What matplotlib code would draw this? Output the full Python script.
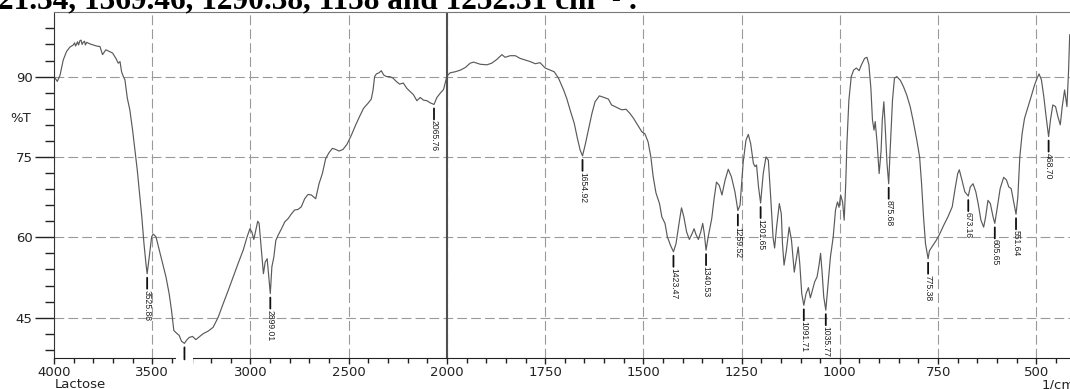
import numpy as np
import matplotlib.pyplot as plt
from matplotlib.patches import Rectangle
import matplotlib.transforms as mtransforms

plt.rcParams['font.family'] = ['DejaVu Sans']
plt.rcParams['lines.scale_dashes'] = False

# FTIR spectrum of lactose: wavenumber (1/cm) and transmittance (%T)
wavenumber = [
    4000, 3983, 3969, 3953, 3936, 3919, 3902, 3895, 3890, 3880, 3875, 3868, 3862, 3857,
    3851, 3845, 3840, 3834, 3817, 3800, 3783, 3766, 3753, 3736, 3719, 3702, 3685, 3673,
    3664, 3656, 3647, 3639, 3627, 3614, 3600, 3588, 3576, 3563, 3553, 3542, 3532, 3525.88,
    3515, 3503, 3495, 3481, 3464, 3447, 3430, 3414, 3402, 3390, 3376, 3363, 3351, 3336,
    3325, 3312, 3295, 3278, 3261, 3241, 3215, 3190, 3164, 3139, 3113, 3088, 3063, 3037,
    3017, 3003, 2993, 2983, 2973, 2963, 2956, 2944, 2934, 2925, 2915, 2908, 2899.01, 2891,
    2881, 2871, 2859, 2842, 2825, 2808, 2791, 2775, 2758, 2741, 2724, 2707, 2690, 2668,
    2651, 2634, 2617, 2600, 2583, 2566, 2549, 2529, 2508, 2486, 2464, 2444, 2424, 2402,
    2385, 2376, 2368, 2359, 2346, 2334, 2322, 2308, 2291, 2274, 2258, 2241, 2222, 2204,
    2187, 2170, 2153, 2136, 2119, 2102, 2085, 2065.76, 2051, 2034, 2017, 2000,
    1992, 1979, 1966, 1953, 1941, 1932, 1915, 1898, 1886, 1873, 1860, 1852, 1839, 1826,
    1814, 1801, 1788, 1775, 1763, 1750, 1737, 1727, 1716, 1703, 1695, 1685, 1676, 1668,
    1661, 1654.92, 1648, 1640, 1631, 1623, 1612, 1600, 1589, 1581, 1572, 1564, 1555, 1544,
    1534, 1525, 1515, 1504, 1496, 1488, 1481, 1475, 1468, 1459, 1453, 1445, 1439, 1431,
    1423.47, 1417, 1408, 1403, 1397, 1390, 1383, 1376, 1371, 1366, 1360, 1354, 1349, 1345,
    1340.53, 1335, 1326, 1320, 1314, 1307, 1300, 1292, 1284, 1276, 1267, 1259.52, 1254, 1246,
    1239, 1233, 1227, 1220, 1216, 1212, 1207, 1201.65, 1195, 1188, 1182, 1176, 1170, 1166,
    1161, 1154, 1149, 1146, 1142, 1136, 1129, 1123, 1116, 1110, 1106, 1102, 1097, 1091.71,
    1086, 1080, 1075, 1070, 1064, 1058, 1053, 1049, 1045, 1041, 1035.77, 1030, 1024, 1017,
    1011, 1006, 1002, 998, 993, 989, 985, 982, 977, 971, 965, 958, 951, 945,
    937, 931, 926, 921, 917, 913, 910, 905, 900, 895, 892, 888, 885, 880,
    875.68, 872, 866, 861, 855, 846, 838, 830, 821, 813, 804, 797, 792, 787,
    782, 775.38, 772, 763, 755, 746, 736, 725, 714, 706, 700, 696, 689, 682,
    673.16, 668, 661, 654, 648, 641, 634, 629, 623, 617, 610, 605.65, 599, 592,
    583, 576, 570, 564, 556, 551.64, 547, 542, 536, 530, 522, 513, 505, 498,
    493, 487, 481, 475, 468.70, 464, 458, 451, 445, 439, 434, 428, 422, 418, 415,
]
transmittance = [
    90.0, 89.1, 90.3, 93.1, 94.7, 95.5, 95.9, 96.3, 95.7, 96.5, 95.9, 96.7, 96.8, 96.0,
    96.4, 96.6, 95.9, 96.4, 96.1, 95.9, 95.7, 95.6, 94.1, 95.0, 94.7, 94.4, 93.4, 92.5,
    92.8, 90.9, 90.0, 89.4, 86.0, 83.8, 80.0, 76.3, 72.5, 67.5, 63.8, 58.8, 55.1, 53.2,
    56.4, 60.1, 60.6, 60.1, 57.6, 55.1, 52.6, 49.5, 46.4, 42.6, 42.1, 41.7, 40.6, 40.2,
    40.8, 41.3, 41.5, 40.9, 41.4, 42.0, 42.5, 43.2, 45.1, 47.6, 50.1, 52.6, 55.1, 57.6,
    60.1, 61.6, 61.0, 59.6, 61.3, 63.0, 62.6, 57.6, 53.2, 55.4, 56.0, 53.2, 49.5, 54.5,
    56.3, 59.4, 60.4, 61.6, 62.9, 63.5, 64.4, 65.1, 65.2, 65.7, 67.2, 68.0, 67.9, 67.2,
    70.0, 71.9, 74.7, 75.8, 76.6, 76.4, 76.1, 76.4, 77.4, 79.1, 81.0, 82.6, 84.1, 85.0,
    85.8, 87.5, 90.0, 90.5, 90.7, 91.1, 90.3, 90.0, 90.0, 89.7, 89.1, 88.6, 88.8, 87.8,
    87.2, 86.6, 85.5, 86.1, 85.6, 85.5, 85.1, 84.8, 86.1, 86.9, 87.6, 90.1,
    90.7, 90.9, 91.2, 91.7, 92.5, 92.7, 92.3, 92.2, 92.5, 93.2, 94.1, 93.6, 93.9, 93.9,
    93.4, 93.1, 92.8, 92.4, 92.6, 91.6, 91.2, 90.9, 89.7, 87.5, 85.9, 83.4, 81.3, 78.5,
    76.3, 75.2, 77.3, 80.0, 83.1, 85.3, 86.4, 86.1, 85.8, 84.7, 84.4, 84.1, 83.8, 83.9,
    83.1, 82.2, 81.0, 79.7, 79.3, 77.8, 75.0, 71.3, 68.3, 66.3, 63.8, 62.6, 60.1, 58.5,
    57.3, 58.8, 63.2, 65.5, 63.8, 61.0, 59.6, 60.7, 61.6, 60.5, 59.6, 61.0, 62.6, 60.7,
    57.6, 60.1, 63.5, 67.2, 70.3, 69.7, 67.9, 70.7, 72.7, 71.3, 68.5, 65.0, 66.0, 74.0,
    78.1, 79.2, 77.5, 73.8, 73.2, 73.5, 69.4, 66.4, 71.9, 75.0, 74.4, 67.5, 60.0, 58.0,
    61.9, 66.3, 64.4, 58.8, 54.8, 57.6, 61.9, 59.4, 53.5, 56.3, 58.2, 55.1, 49.5, 47.3,
    49.5, 50.6, 48.7, 50.1, 51.7, 52.6, 54.8, 57.0, 53.3, 48.9, 46.4, 51.3, 56.3, 60.0,
    65.1, 66.6, 65.6, 67.9, 66.6, 63.2, 70.0, 77.5, 85.6, 90.0, 91.2, 91.6, 91.1, 92.2,
    93.4, 93.6, 92.2, 87.8, 81.9, 80.0, 81.6, 77.5, 71.9, 76.2, 81.9, 85.3, 81.3, 73.8,
    70.0, 76.2, 85.6, 89.7, 90.0, 89.3, 88.1, 86.6, 84.4, 81.6, 78.1, 75.0, 70.0, 63.8,
    58.8, 56.0, 57.5, 58.5, 59.4, 60.6, 62.2, 63.8, 65.7, 69.4, 71.9, 72.6, 70.6, 68.5,
    67.7, 69.4, 70.0, 68.5, 66.3, 63.2, 61.9, 63.8, 66.9, 66.3, 63.8, 62.6, 65.7, 69.1,
    71.2, 70.7, 69.4, 69.1, 66.0, 64.3, 67.5, 75.0, 79.4, 82.2, 84.1, 86.3, 88.3, 89.7,
    90.5, 89.4, 86.3, 82.5, 78.8, 81.9, 84.7, 84.4, 82.5, 81.0, 84.4, 87.5, 84.4, 91.0, 97.8,
]

# picked peaks; the 3336 band label falls below the frame
peak_wn = [3525.88, 2899.01, 2065.76, 1654.92, 1423.47, 1340.53, 1259.52, 1201.65,
           1091.71, 1035.77, 875.68, 775.38, 673.16, 605.65, 551.64, 468.70]
hidden_peak_wn = 3336

x_major = [4000, 3500, 3000, 2500, 2000, 1750, 1500, 1250, 1000, 750, 500]
y_major = [45, 60, 75, 90]

wn = np.array(wavenumber)
tr = np.array(transmittance)


# wavenumber axis: 2000-400 region drawn at twice the scale of 4000-2000
def fwd(w):
    w = np.asarray(w, dtype=float)
    return np.where(w >= 2000, w, 2 * w - 2000)


def inv(u):
    u = np.asarray(u, dtype=float)
    return np.where(u >= 2000, u, (u + 2000) / 2)


W, H = 1070, 389
fig = plt.figure(figsize=(W / 100, H / 100), dpi=100)
ax = fig.add_axes([54 / W, 1 - 358 / H, (1075.6 - 54) / W, (358 - 12.3) / H])
ax.set_xscale('function', functions=(fwd, inv))
ax.set_xlim(4000, 400)
ax.set_ylim(37.47, 102.0)

ax.plot(wn, tr, color='#5a5a5a', lw=0.85, zorder=2)
ax.axvline(2000, color='#505050', lw=1.5, zorder=2.2)

ax.set_xticks(x_major)
ax.set_xticklabels([str(v) for v in x_major])
minor_x = [v for v in range(3900, 2000, -100) if v not in x_major]
minor_x += [v for v in range(1950, 400, -50) if v not in x_major]
ax.set_xticks(minor_x, minor=True)
ax.set_yticks(y_major)
ax.set_yticks([v for v in range(39, 102, 3) if v not in y_major], minor=True)

ax.grid(which='major', color='#9a9a9a', lw=0.8, ls=(0, (7, 3)))
ax.tick_params(axis='x', which='major', direction='out', length=4.3, width=1,
               pad=1.5, labelsize=9.5, colors='#222222')
ax.tick_params(axis='x', which='minor', direction='out', length=3.6, width=1, colors='#222222')
ax.tick_params(axis='y', which='major', direction='out', length=13.7, width=1,
               pad=1.7, labelsize=9.5, colors='#222222')
ax.tick_params(axis='y', which='minor', direction='out', length=6.5, width=1, colors='#222222')

ax.spines['right'].set_visible(False)
ax.spines['top'].set_color('#777777')
ax.spines['left'].set_color('#333333')
ax.spines['bottom'].set_color('#222222')

# peak markers and wavenumber labels
peak_t = np.interp(peak_wn, wn[::-1], tr[::-1])
for w, t in zip(peak_wn, peak_t):
    ax.annotate('', xy=(w, t), xytext=(0, -15), textcoords='offset pixels',
                arrowprops=dict(arrowstyle='-', color='#111111', lw=1.3,
                                shrinkA=0, shrinkB=2.9))
    ax.annotate(f'{w:.2f}', xy=(w, t), xytext=(0, -16), textcoords='offset pixels',
                rotation=-90, ha='center', va='top', fontsize=6.2,
                family='Liberation Sans', color='#222222')

ht = np.interp(hidden_peak_wn, wn[::-1], tr[::-1])
ax.annotate('', xy=(hidden_peak_wn, ht), xytext=(0, -16), textcoords='offset pixels',
            arrowprops=dict(arrowstyle='-', color='#111111', lw=1.3, shrinkA=0, shrinkB=2.9),
            zorder=4)
blend = mtransforms.blended_transform_factory(ax.transData, ax.transAxes)
ax.add_patch(Rectangle((hidden_peak_wn + 42, -0.035), -84, 0.042, transform=blend,
                       facecolor='white', edgecolor='none', clip_on=False, zorder=2.8))

fig.text(21 / W, 1 - 118 / H, '%T', fontsize=9.5, ha='center', va='center', color='#222222')
fig.text(55 / W, 1 - 388 / H, 'Lactose', fontsize=9.5, ha='left', va='baseline', color='#222222')
fig.text(1042 / W, 1 - 388 / H, '1/cm', fontsize=9.5, ha='left', va='baseline', color='#222222')
fig.text(-0.002, 1 - 8.5 / H, '21.34, 1369.46, 1290.38, 1158 and 1252.31 cm\u207b\u00b9 .',
         fontsize=22.5, fontweight='bold', family=['Liberation Serif', 'DejaVu Serif'],
         ha='left', va='baseline')

fig.savefig('out.png', dpi=100)
